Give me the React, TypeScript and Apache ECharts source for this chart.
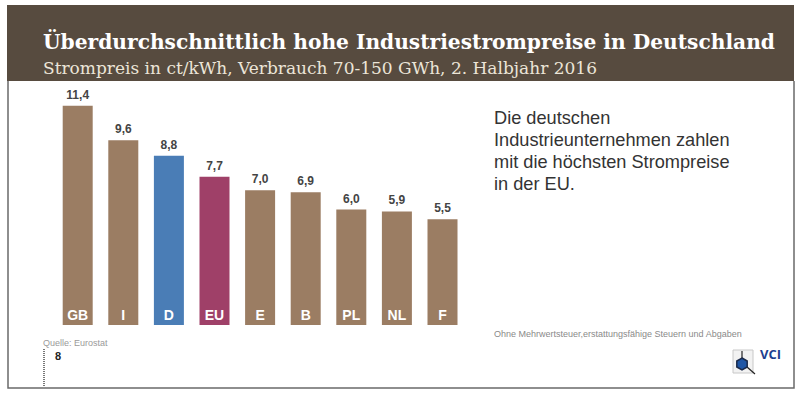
import React, { useEffect, useRef } from "react";
import * as echarts from "echarts";

const categories = ["GB", "I", "D", "EU", "E", "B", "PL", "NL", "F"];
const values = [11.4, 9.6, 8.8, 7.7, 7.0, 6.9, 6.0, 5.9, 5.5];
const barColors = ["#9b7d63", "#9b7d63", "#4a7db6", "#9f4068", "#9b7d63", "#9b7d63", "#9b7d63", "#9b7d63", "#9b7d63"];

const titleText = "Überdurchschnittlich hohe Industriestrompreise in Deutschland";
const subtitleText = "Strompreis in ct/kWh, Verbrauch 70-150 GWh, 2. Halbjahr 2016";
const noteLines = ["Die deutschen", "Industrieunternehmen zahlen", "mit die höchsten Strompreise", "in der EU."];
const footnoteText = "Ohne Mehrwertsteuer,erstattungsfähige Steuern und Abgaben";
const sourceText = "Quelle: Eurostat";

export default function App() {
  const ref = useRef<HTMLDivElement>(null);
  useEffect(() => {
    if (!ref.current) return;
    const chart = echarts.init(ref.current, undefined, { renderer: "svg" });
    const hex = (cx: number, cy: number, r: number) => {
      const pts: number[][] = [];
      for (let i = 0; i < 6; i++) {
        const a = (Math.PI / 3) * i - Math.PI / 2;
        pts.push([cx + r * Math.cos(a), cy + r * Math.sin(a)]);
      }
      return pts;
    };
    chart.setOption({
      animation: false,
      backgroundColor: "#ffffff",
      grid: { left: 54.9, right: 334.7, top: 94.1, bottom: 71 },
      xAxis: {
        type: "category",
        data: categories,
        z: 10,
        axisLine: { show: false },
        axisTick: { show: false },
        axisLabel: {
          inside: true,
          margin: 3,
          color: "#ffffff",
          fontWeight: "bold",
          fontSize: 14,
          fontFamily: "Liberation Sans",
        },
      },
      yAxis: { type: "value", min: 0, max: 12, show: false },
      series: [
        {
          type: "bar",
          barWidth: 30,
          data: values.map((v, i) => ({ value: v, itemStyle: { color: barColors[i] } })),
          label: {
            show: true,
            position: "top",
            distance: 5,
            color: "#444444",
            fontWeight: "bold",
            fontSize: 12,
            fontFamily: "Liberation Sans",
            formatter: (p: any) => p.value.toFixed(1).replace(".", ","),
          },
        },
      ],
      graphic: [
        { type: "rect", shape: { x: 7, y: 5, width: 787, height: 76 }, style: { fill: "#574b3f" } },
        {
          type: "polyline",
          shape: { points: [[8, 81], [8, 388], [794, 388], [794, 81]] },
          style: { stroke: "#6a6a6a", lineWidth: 1.5, fill: "none" },
        },
        {
          type: "text",
          x: 43,
          y: 42,
          style: {
            text: titleText,
            fill: "#ffffff",
            font: "bold 20.2px 'DejaVu Serif'",
            verticalAlign: "middle",
          },
        },
        {
          type: "text",
          x: 43,
          y: 68,
          style: {
            text: subtitleText,
            fill: "#ece5d8",
            font: "17px 'DejaVu Serif'",
            verticalAlign: "middle",
          },
        },
        ...noteLines.map((t, i) => ({
          type: "text",
          x: 494,
          y: 118 + i * 22,
          style: { text: t, fill: "#333333", font: "18.2px 'Liberation Sans'", verticalAlign: "middle" },
        })),
        {
          type: "text",
          x: 494,
          y: 334,
          style: { text: footnoteText, fill: "#8a8a8a", font: "9px 'Liberation Sans'", verticalAlign: "middle" },
        },
        {
          type: "text",
          x: 43,
          y: 343,
          style: { text: sourceText, fill: "#9a9a9a", font: "9px 'Liberation Sans'", verticalAlign: "middle" },
        },
        {
          type: "text",
          x: 55,
          y: 356,
          style: { text: "8", fill: "#222222", font: "bold 11px 'Liberation Sans'", verticalAlign: "middle" },
        },
        {
          type: "line",
          shape: { x1: 44, y1: 349, x2: 44, y2: 387 },
          style: { stroke: "#777777", lineWidth: 2, lineDash: [1, 1] },
        },
        { type: "rect", shape: { x: 733, y: 350, width: 20, height: 23 }, style: { fill: "#f2f2f2", stroke: "#c8c8c8", lineWidth: 1 } },
        { type: "line", shape: { x1: 742, y1: 351, x2: 742, y2: 358 }, style: { stroke: "#222222", lineWidth: 1.2 } },
        { type: "line", shape: { x1: 747, y1: 367, x2: 755, y2: 374 }, style: { stroke: "#222222", lineWidth: 1.2 } },
        {
          type: "polygon",
          shape: { points: hex(742, 364, 6) },
          style: { fill: "#1f56a6", stroke: "#1b2a4a", lineWidth: 1.5 },
        },
        {
          type: "text",
          x: 760,
          y: 354,
          style: { text: "VCI", fill: "#1d3f8f", font: "bold 13px 'Open Sans'", verticalAlign: "middle" },
        },
      ],
    });
    return () => chart.dispose();
  }, []);
  return (
    <div
      ref={ref}
      style={{ position: "fixed", left: 0, top: 0, width: 800, height: 396, background: "#fff" }}
    />
  );
}
